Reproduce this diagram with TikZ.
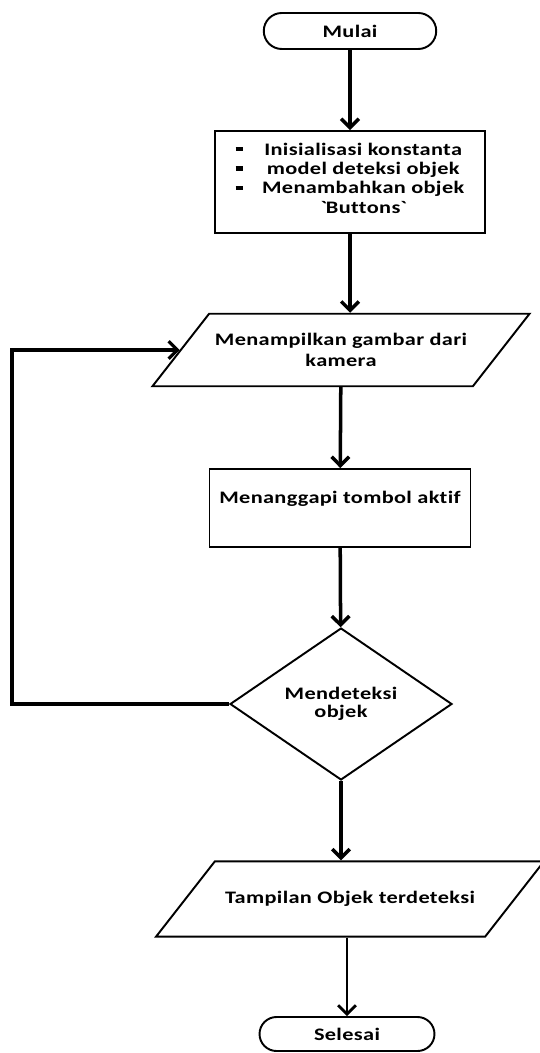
\documentclass[tikz,border=0pt]{standalone}
\usepackage{fontspec}
\setmainfont{Carlito}[FakeStretch=1.27, LetterSpace=2, Ligatures={NoCommon}]
\usetikzlibrary{shapes.geometric, arrows.meta}
\newcommand{\bul}{\rule[0.22em]{4pt}{2.4pt}}

\begin{document}
\begin{tikzpicture}[x=0.02cm, y=-0.02cm, >={Straight Barb[length=5pt, width=10pt]},
        every node/.style={font=\bfseries\fontsize{10}{12}\selectfont, align=center},
        terminal/.style={draw, line width=1.1pt, rounded corners=0.36cm, minimum width=3.45cm, minimum height=0.72cm},
        process/.style={draw, line width=1.1pt, rectangle},
        io/.style={draw, line width=1.1pt, trapezium, trapezium left angle=52, trapezium right angle=128, trapezium stretches body},
        decision/.style={draw, line width=1.1pt, diamond, inner sep=0pt, minimum width=4.44cm, minimum height=3.04cm},
        flow/.style={->, line width=2pt}]
            \useasboundingbox (0,0) rectangle (539,1053);

            % Shapes
            \node[terminal] (start) at (350,31) {Mulai};
            \node[process, minimum width=5.4cm, minimum height=2.04cm, font=\bfseries\fontsize{10}{11}\selectfont] (init) at (350,182) {%
                \begin{tabular}{@{}c@{\hspace{11pt}}c@{}}
                    \bul & Inisialisasi konstanta \\
                    \bul & model deteksi objek \\
                    \bul & Menambahkan objek \\
                         & \textasciigrave Buttons\textasciigrave \\[2pt]
                \end{tabular}};
            \node[io, minimum width=7.1cm, inner ysep=0.39cm] (camera) at (341,350) {Menampilkan gambar dari\\kamera};
            \node[process, minimum width=5.22cm, minimum height=1.56cm] (respond) at (340,508) {Menanggapi tombol aktif\\ \mbox{}};
            \node[decision, font=\bfseries\fontsize{10}{10.5}\selectfont] (detect) at (341,704) {Mendeteksi\\objek};
            \node[io, minimum width=7.76cm, inner ysep=0.6cm] (show) at (350,899) {Tampilan Objek terdeteksi};
            \node[terminal, minimum width=3.5cm, minimum height=0.68cm, rounded corners=0.34cm] (finish) at (347,1034) {Selesai};

            % Loop corner
            \coordinate (loopcorner) at (12,0);

            % Connectors
            \draw[flow] (start) -- (init);
            \draw[flow] (init.south) -- (init.south |- camera.north);
            \draw[flow] (camera) -- (respond);
            \draw[flow] (respond) -- (detect);
            \draw[flow] (detect.south) -- (detect.south |- show.north);
            \draw[flow, line width=1.6pt] (show.south -| finish) -- (finish);
            \draw[flow, line width=1.8pt] (detect.west) -- (detect.west -| loopcorner) |- (camera.west);

        \end{tikzpicture}
\end{document}
